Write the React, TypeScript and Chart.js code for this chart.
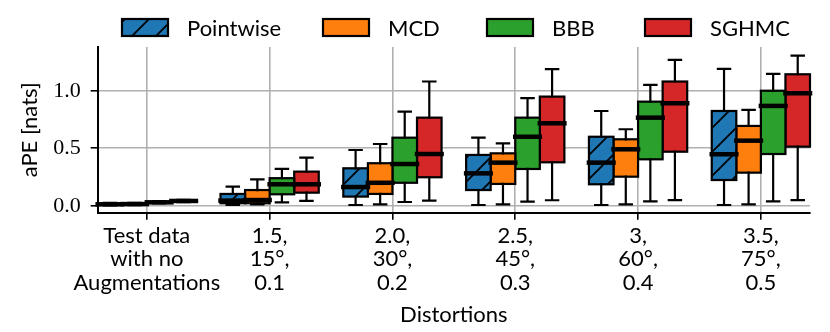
import React, { useEffect, useRef } from 'react';
import { Chart, registerables } from 'chart.js';

Chart.register(...registerables);

// ---- data ----
const categories: string[][] = [
  ['Test data', 'with no', 'Augmentations'],
  ['1.5,', '15°,', '0.1'],
  ['2.0,', '30°,', '0.2'],
  ['2.5,', '45°,', '0.3'],
  ['3,', '60°,', '0.4'],
  ['3.5,', '75°,', '0.5'],
];

const seriesNames = ['Pointwise', 'MCD', 'BBB', 'SGHMC'];
const seriesColors = ['#1f77b4', '#ff7f0e', '#2ca02c', '#d62728'];

// each entry: [whisker low, q1, median, q3, whisker high]
const pointwise: number[][] = [
  [0.004, 0.009, 0.013, 0.018, 0.025],
  [0.007, 0.022, 0.045, 0.103, 0.166],
  [0.007, 0.08, 0.163, 0.326, 0.485],
  [0.007, 0.137, 0.282, 0.442, 0.592],
  [0.007, 0.187, 0.375, 0.6, 0.824],
  [0.007, 0.224, 0.448, 0.824, 1.19],
];
const mcd: number[][] = [
  [0.005, 0.01, 0.015, 0.02, 0.026],
  [0.012, 0.022, 0.05, 0.137, 0.23],
  [0.013, 0.103, 0.2, 0.37, 0.537],
  [0.013, 0.19, 0.375, 0.456, 0.543],
  [0.013, 0.253, 0.491, 0.578, 0.665],
  [0.013, 0.288, 0.566, 0.694, 0.833],
];
const bbb: number[][] = [
  [0.02, 0.025, 0.03, 0.035, 0.04],
  [0.03, 0.1, 0.187, 0.24, 0.32],
  [0.033, 0.2, 0.363, 0.592, 0.818],
  [0.036, 0.32, 0.6, 0.766, 0.935],
  [0.039, 0.404, 0.766, 0.905, 1.05],
  [0.039, 0.45, 0.868, 1.0, 1.146],
];
const sghmc: number[][] = [
  [0.032, 0.037, 0.042, 0.047, 0.052],
  [0.042, 0.114, 0.187, 0.297, 0.418],
  [0.045, 0.248, 0.45, 0.766, 1.08],
  [0.048, 0.378, 0.717, 0.949, 1.187],
  [0.05, 0.47, 0.891, 1.08, 1.268],
  [0.05, 0.514, 0.978, 1.143, 1.305],
];
const allSeries = [pointwise, mcd, bbb, sghmc];

const yTickValues = [0, 0.5, 1.0];

const SANS = "Lato, 'DejaVu Sans', sans-serif";
const SERIF = "'Liberation Serif', 'DejaVu Serif', serif";

function makeHatch(color: string): CanvasPattern | string {
  const P = 24;
  const c = document.createElement('canvas');
  c.width = P;
  c.height = P;
  const g = c.getContext('2d');
  if (!g) return color;
  g.fillStyle = color;
  g.fillRect(0, 0, P, P);
  g.strokeStyle = '#000';
  g.lineWidth = 1.8;
  for (const k of [0, 1, 2]) {
    g.beginPath();
    g.moveTo(-2, k * P + 2);
    g.lineTo(k * P + 2, -2);
    g.stroke();
  }
  const pat = g.createPattern(c, 'repeat');
  return pat || color;
}

const boxPlugin = {
  id: 'boxLines',
  afterDatasetDraw(chart: any, args: any) {
    const ctx = chart.ctx;
    ctx.save();
    ctx.strokeStyle = '#000';
    ctx.lineWidth = 2.2;
    ctx.lineJoin = 'miter';
    args.meta.data.forEach((el: any) => {
      const { x, y, base, width } = el.getProps(['x', 'y', 'base', 'width'], true);
      const top = Math.min(y, base);
      const bottom = Math.max(y, base);
      ctx.strokeRect(x - width / 2, top, width, bottom - top);
    });
    ctx.restore();
  },
  afterDatasetsDraw(chart: any) {
    const ctx = chart.ctx;
    const ys = chart.scales.y;
    ctx.save();
    ctx.strokeStyle = '#000';
    ctx.lineCap = 'square';
    chart.data.datasets.forEach((_ds: any, i: number) => {
      const meta = chart.getDatasetMeta(i);
      const stats = allSeries[i];
      meta.data.forEach((el: any, j: number) => {
        const { x, width } = el.getProps(['x', 'width'], true);
        const [lo, q1, med, q3, hi] = stats[j];
        const pLo = ys.getPixelForValue(lo);
        const pQ1 = ys.getPixelForValue(q1);
        const pMed = ys.getPixelForValue(med);
        const pQ3 = ys.getPixelForValue(q3);
        const pHi = ys.getPixelForValue(hi);
        const capHalf = width / 4;
        ctx.lineWidth = 2.2;
        ctx.beginPath();
        ctx.moveTo(x, pQ1);
        ctx.lineTo(x, pLo);
        ctx.moveTo(x, pQ3);
        ctx.lineTo(x, pHi);
        ctx.moveTo(x - capHalf, pLo);
        ctx.lineTo(x + capHalf, pLo);
        ctx.moveTo(x - capHalf, pHi);
        ctx.lineTo(x + capHalf, pHi);
        ctx.stroke();
        ctx.lineWidth = 4.5;
        ctx.beginPath();
        ctx.moveTo(x - width / 2, pMed);
        ctx.lineTo(x + width / 2, pMed);
        ctx.stroke();
      });
    });
    ctx.restore();
  },
};

const legendLefts = [122, 323, 487, 645];

function makeLegendPlugin(fills: (CanvasPattern | string)[]) {
  return {
    id: 'customLegend',
    afterDraw(chart: any) {
      const ctx = chart.ctx;
      ctx.save();
      seriesNames.forEach((name, i) => {
        const bx = legendLefts[i];
        const by = 19;
        ctx.fillStyle = fills[i];
        ctx.fillRect(bx, by, 46, 17);
        ctx.strokeStyle = '#000';
        ctx.lineWidth = 2.2;
        ctx.strokeRect(bx, by, 46, 17);
        ctx.fillStyle = '#000';
        ctx.font = `22px ${SANS}`;
        ctx.textBaseline = 'middle';
        ctx.textAlign = 'left';
        ctx.fillText(name, bx + 65, 28.5);
      });
      ctx.restore();
    },
  };
}

export default function App() {
  const ref = useRef<HTMLCanvasElement | null>(null);
  useEffect(() => {
    const canvas = ref.current;
    if (!canvas) return;
    const fills = seriesColors.map((c, i) => (i === 0 ? makeHatch(c) : c));
    const chart = new Chart(canvas, {
      type: 'bar',
      data: {
        datasets: allSeries.map((s, i) => ({
          label: seriesNames[i],
          data: s.map((b, j) => ({ x: j, y: [b[1], b[3]] })),
          backgroundColor: fills[i] as any,
          borderWidth: 0,
          inflateAmount: 0,
          categoryPercentage: 0.8,
          barPercentage: 1,
        })) as any,
      },
      options: {
        animation: false,
        responsive: false,
        devicePixelRatio: 1,
        layout: { padding: { top: 47, right: 20, left: 0, bottom: 0 } },
        plugins: {
          legend: { display: false },
          tooltip: { enabled: false },
        },
        scales: {
          x: {
            type: 'linear',
            min: -0.4,
            max: 5.4,
            offset: false,
            afterFit: (s: any) => {
              s.height = 119.3;
            },
            grid: {
              offset: false,
              color: '#b0b0b0',
              lineWidth: 1.6,
              drawTicks: true,
              tickLength: 7,
              tickColor: '#000',
              tickWidth: 1.6,
            },
            border: { display: true, color: '#000', width: 2 },
            ticks: {
              stepSize: 1,
              includeBounds: false,
              autoSkip: false,
              maxRotation: 0,
              minRotation: 0,
              padding: 4,
              color: '#000',
              font: { family: SANS, size: 22, lineHeight: '23.7px' },
              callback: (v: any) => {
                const n = Math.round(Number(v));
                return categories[n] || '';
              },
            },
            title: {
              display: true,
              text: 'Distortions',
              color: '#000',
              font: { family: SANS, size: 22 },
              padding: { top: 0, bottom: 4 },
            },
          } as any,
          y: {
            type: 'linear',
            min: -0.06,
            max: 1.38,
            afterFit: (s: any) => {
              s.width = 97.7;
            },
            grid: {
              color: '#b0b0b0',
              lineWidth: 1.6,
              drawTicks: true,
              tickLength: 7,
              tickColor: '#000',
              tickWidth: 1.6,
            },
            border: { display: true, color: '#000', width: 2 },
            ticks: {
              stepSize: 0.5,
              includeBounds: false,
              padding: 10,
              color: '#000',
              font: { family: SERIF, size: 22 },
              callback: (v: any) => {
                const n = Number(v);
                return yTickValues.some((t) => Math.abs(t - n) < 1e-9) ? n.toFixed(1) : '';
              },
            },
            title: {
              display: true,
              text: 'aPE [nats]',
              color: '#000',
              font: { family: SANS, size: 22 },
              padding: { top: 17, bottom: 0 },
            },
          } as any,
        },
      },
      plugins: [boxPlugin as any, makeLegendPlugin(fills) as any],
    });
    return () => chart.destroy();
  }, []);
  return (
    <div style={{ position: 'absolute', left: 0, top: 0, width: 830, height: 332 }}>
      <canvas ref={ref} width={830} height={332} style={{ display: 'block' }} />
    </div>
  );
}
